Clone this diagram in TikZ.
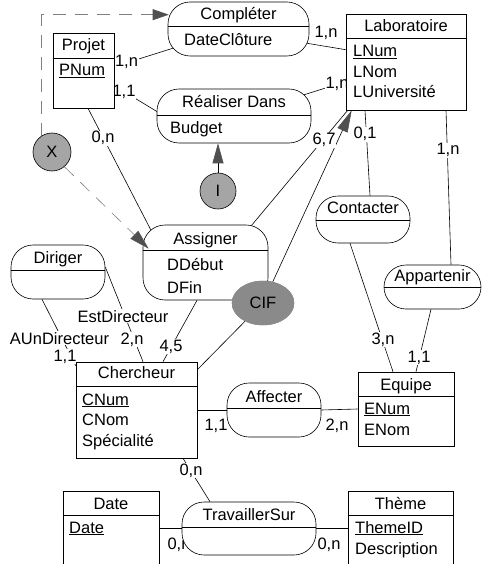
\documentclass[tikz,border=0pt]{standalone}
\usepackage{fontspec}
\setmainfont{Liberation Sans}
\usetikzlibrary{calc,shapes.geometric,arrows.meta}
\pgfdeclarelayer{bg}
\pgfdeclarelayer{lab}
\pgfsetlayers{bg,lab,main}
\definecolor{circgray}{RGB}{165,165,165}
\definecolor{cifgray}{RGB}{138,138,138}
\definecolor{tipgray}{RGB}{80,80,80}
\definecolor{dashgray}{RGB}{128,128,128}
\newcommand\ulkey[1]{\setbox0\hbox{#1}\rlap{\rule[-2.3pt]{\wd0}{1.1pt}}\box0}
\tikzset{
  every node/.style={font=\fontsize{16.5}{19}\selectfont},
  ent/.style={draw, fill=white, line width=0.6pt, rectangle, inner sep=0pt},
  rel/.style={draw, fill=white, line width=0.6pt, rectangle, rounded corners=22pt, inner sep=0pt},
  circnode/.style={draw, circle, fill=circgray, line width=0.6pt, inner sep=0pt},
  ttl/.style={anchor=base, inner sep=0pt},
  att/.style={anchor=base west, inner sep=0pt},
  card/.style={anchor=base, inner sep=0.6pt, fill=white},
  lnk/.style={line width=0.6pt},
  dline/.style={line width=0.6pt, dashgray, dash pattern=on 13pt off 9pt},
  tip/.style={-{Triangle[length=#1, width=11pt, fill=tipgray, color=tipgray]}},
}
\begin{document}
\begin{tikzpicture}[x=1pt, y=-1pt]
\useasboundingbox (0,0) rectangle (483,564);
\clip (0,0) rectangle (483,564);

% ---------- shapes ----------
\node[ent, minimum width=61pt, minimum height=75pt] (projet) at (83.5,70.5) {};
\node[rel, minimum width=141pt, minimum height=54pt] (complet) at (238.5,29) {};
\node[ent, minimum width=120pt, minimum height=96pt] (labo) at (406,62) {};
\node[rel, minimum width=154pt, minimum height=54pt] (realis) at (234,116) {};
\node[circnode, minimum size=38pt] (xc) at (52,152) {X};
\node[circnode, minimum size=36pt] (ic) at (218,191) {I};
\node[rel, minimum width=125pt, minimum height=75pt] (assign) at (205.5,262.5) {};
\node[draw=cifgray, ellipse, fill=cifgray, minimum width=62pt, minimum height=44pt, inner sep=0pt] (cif) at (263,303) {CIF};
\node[rel, minimum width=94pt, minimum height=54pt] (diriger) at (58,272) {};
\node[ent, minimum width=121pt, minimum height=96pt] (cherch) at (136.5,410) {};
\node[rel, minimum width=94pt, minimum height=47pt] (contact) at (363,219.5) {};
\node[rel, minimum width=97pt, minimum height=44pt] (appart) at (432.5,287) {};
\node[ent, minimum width=96pt, minimum height=74pt] (equipe) at (406,409) {};
\node[rel, minimum width=94pt, minimum height=54pt] (affect) at (274,410) {};
\node[ent, minimum width=96pt, minimum height=89pt] (date) at (111,535.5) {};
\node[rel, minimum width=134pt, minimum height=53pt] (trav) at (249,528.5) {};
\node[ent, minimum width=105pt, minimum height=89pt] (theme) at (400.5,535.5) {};

% ---------- dividers ----------
\draw[lnk] ($(projet.north west)+(0,26)$) -- ($(projet.north east)+(0,26)$);
\draw[lnk] ($(complet.north west)+(0,25)$) -- ($(complet.north east)+(0,25)$);
\draw[lnk] ($(labo.north west)+(0,25)$) -- ($(labo.north east)+(0,25)$);
\draw[lnk] ($(realis.north west)+(0,27)$) -- ($(realis.north east)+(0,27)$);
\draw[lnk] ($(assign.north west)+(0,26)$) -- ($(assign.north east)+(0,26)$);
\draw[lnk] ($(diriger.north west)+(0,26)$) -- ($(diriger.north east)+(0,26)$);
\draw[lnk] ($(cherch.north west)+(0,25)$) -- ($(cherch.north east)+(0,25)$);
\draw[lnk] ($(contact.north west)+(0,25)$) -- ($(contact.north east)+(0,25)$);
\draw[lnk] ($(appart.north west)+(0,23)$) -- ($(appart.north east)+(0,23)$);
\draw[lnk] ($(equipe.north west)+(0,25)$) -- ($(equipe.north east)+(0,25)$);
\draw[lnk] ($(affect.north west)+(0,26)$) -- ($(affect.north east)+(0,26)$);
\draw[lnk] ($(date.north west)+(0,25)$) -- ($(date.north east)+(0,25)$);
\draw[lnk] ($(trav.north west)+(0,26)$) -- ($(trav.north east)+(0,26)$);
\draw[lnk] ($(theme.north west)+(0,25)$) -- ($(theme.north east)+(0,25)$);

% CIF drawn over Assigner
\node[draw=cifgray, ellipse, fill=cifgray, minimum width=62pt, minimum height=44pt, inner sep=0pt] (cif2) at (cif) {CIF};

% ---------- texts ----------
\node[ttl] (tprojet) at (83.5,51) {Projet};
\node[att] (aprojet) at (59,76) {\ulkey{PNum}};
\node[ttl] (tcomplet) at (238.5,20) {Compléter};
\node[att] (acomplet) at (184,46) {DateClôture};
\node[ttl] (tlabo) at (406,32) {Laboratoire};
\node[att] (alabo1) at (353,57) {\ulkey{LNum}};
\node[att] (alabo2) at (353,77.5) {LNom};
\node[att] (alabo3) at (353,98) {LUniversité};
\node[ttl] (trealis) at (234,108) {Réaliser Dans};
\node[att] (arealis) at (170,134) {Budget};
\node[ttl] (tassign) at (205.5,244) {Assigner};
\node[att] (aassign1) at (167,270) {DDébut};
\node[att] (aassign2) at (167,293) {DFin};
\node[ttl] (tdiriger) at (58,263) {Diriger};
\node[ttl] (tcherch) at (136.5,378) {Chercheur};
\node[att] (acherch1) at (82,405) {\ulkey{CNum}};
\node[att] (acherch2) at (82,425) {CNom};
\node[att] (acherch3) at (82,446) {Spécialité};
\node[ttl] (tcontact) at (363,213) {Contacter};
\node[ttl] (tappart) at (432.5,281) {Appartenir};
\node[ttl] (tequipe) at (406,390) {Equipe};
\node[att] (aequipe1) at (364,414) {\ulkey{ENum}};
\node[att] (aequipe2) at (364,435) {ENom};
\node[ttl] (taffect) at (274,402) {Affecter};
\node[ttl] (tdate) at (111,509) {Date};
\node[att] (adate) at (69,533) {\ulkey{Date}};
\node[ttl] (ttrav) at (249,520) {TravaillerSur};
\node[ttl] (ttheme) at (400.5,509) {Thème};
\node[att] (atheme1) at (355,533) {\ulkey{ThemeID}};
\node[att] (atheme2) at (355,554) {Description};

% X -> Assigner dashed arrow (drawn over Assigner)
\draw[dline, tip=20pt] (xc.-50) -- ($(assign.north west)+(6,24)$);

% ---------- connectors ----------
\begin{pgfonlayer}{bg}
\draw[lnk] ($(projet.north east)+(0,34)$) -- ($(complet.south west)+(5,-8)$);
\draw[lnk] ($(projet.north east)+(0,53)$) -- ($(realis.west)+(1,-4)$);
\draw[lnk] ($(projet.south)+(4.5,0)$) -- ($(assign.north west)+(8,5)$);
\draw[lnk] ($(complet.east)+(-4,14)$) -- ($(labo.north west)+(0,36)$);
\draw[lnk] ($(realis.east)+(-8,-21)$) -- ($(labo.north west)+(0,68)$);
\draw[lnk] ($(assign.north east)+(-17,1)$) -- ($(labo.south west)+(2,0)$);
\draw[lnk, tip=22pt] (cif) -- ($(labo.south west)+(6,0)$);
\draw[lnk, tip=20pt] (ic) -- (realis.south -| ic);
\draw[dline, tip=16pt] (xc.122) |- ($(complet.north west)+(1,13)$);
\draw[lnk] ($(assign.south)+(-8.5,0)$) -- ($(cherch.north)+(26.5,0)$);
\draw[lnk] ($(diriger.east)+(0,-5)$) -- ($(cherch.north)+(6.5,0)$);
\draw[lnk] ($(diriger.south)+(-16,0)$) -- ($(cherch.north west)+(0,4)$);
\draw[lnk] (cif) -- ($(cherch.north east)+(0,8)$);
\draw[lnk] ($(labo.south)+(-41,0)$) -- ($(contact.north)+(7,0)$);
\draw[lnk] ($(contact.south)+(-13,0)$) -- ($(equipe.north)+(-13,0)$);
\draw[lnk] ($(labo.south)+(40,0)$) -- ($(appart.north)+(18.5,0)$);
\draw[lnk] ($(appart.south)+(-1.5,0)$) -- ($(equipe.north)+(10,0)$);
\draw[lnk] (cherch.east) -- (affect.west);
\draw[lnk] (affect.east) -- (equipe.west);
\draw[lnk] ($(cherch.south)+(46.5,0)$) -- ($(trav.north)+(-39,0)$);
\draw[lnk] (date.east |- trav.west) -- (trav.west);
\draw[lnk] (trav.east) -- (trav.east -| theme.west);
\end{pgfonlayer}

% ---------- cardinalities ----------
\begin{pgfonlayer}{lab}
\node[card] (c1) at (126.5,67) {1,n};
\node[card] (c2) at (124,97) {1,1};
\node[card] (c3) at (103,143) {0,n};
\node[card] (c4) at (326,38) {1,n};
\node[card] (c5) at (337,89) {1,n};
\node[card] (c6) at (324,145) {6,7};
\node[card] (c7) at (365,139) {0,1};
\node[card] (c8) at (448,155) {1,n};
\node[card] (c9) at (171,351) {4,5};
\node[card] (c10) at (123,322) {EstDirecteur};
\node[card] (c11) at (132,344) {2,n};
\node[card] (c12) at (59.5,344) {AUnDirecteur};
\node[card] (c13) at (65,361) {1,1};
\node[card] (c14) at (383,344) {3,n};
\node[card] (c15) at (419,362) {1,1};
\node[card] (c16) at (216,430) {1,1};
\node[card] (c17) at (337,430) {2,n};
\node[card] (c18) at (191,475) {0,n};
\node[card] (c19) at (179,549) {0,n};
\node[card] (c20) at (329,549) {0,n};
\end{pgfonlayer}
\end{tikzpicture}
\end{document}
